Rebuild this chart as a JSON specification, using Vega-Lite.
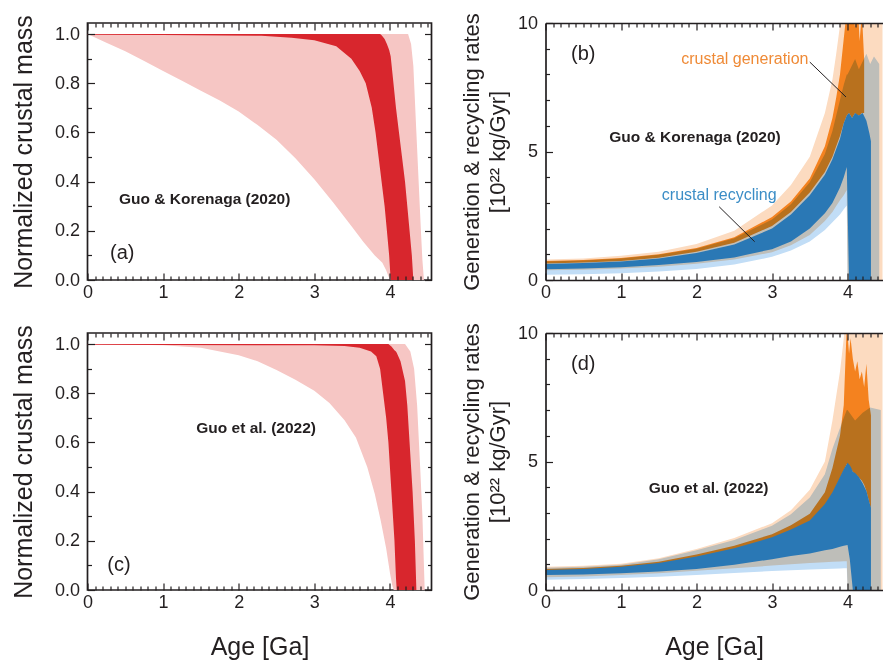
{
"$schema": "https://vega.github.io/schema/vega-lite/v6.json",
"background": "white",
"padding": {"left": 10.5, "top": 12, "right": 0, "bottom": 0},
"config": {
  "view": {"stroke": null},
  "axis": {"labelFont": "Liberation Sans", "labelFontSize": 18, "labelColor": "#231f20", "titleFont": "Liberation Sans", "titleFontSize": 25, "titleFontWeight": "normal", "titleColor": "#231f20", "tickColor": "#231f20", "domainColor": "#231f20", "domainWidth": 1.7, "tickWidth": 1.2, "grid": false, "labelFlush": false, "zindex": 1},
  "text": {"font": "Liberation Sans", "color": "#231f20"}
},
"bounds": "flush",
"columns": 2,
"spacing": {"row": 53, "column": 114},
"datasets": {
  "a_pink": [{"age":0,"lo":1,"hi":1},{"age":0.25,"lo":0.965,"hi":1},{"age":0.5,"lo":0.93,"hi":1},{"age":0.75,"lo":0.89,"hi":1},{"age":1,"lo":0.85,"hi":1},{"age":1.25,"lo":0.81,"hi":1},{"age":1.5,"lo":0.77,"hi":1},{"age":1.75,"lo":0.73,"hi":1},{"age":2,"lo":0.685,"hi":1},{"age":2.25,"lo":0.63,"hi":1},{"age":2.5,"lo":0.57,"hi":1},{"age":2.75,"lo":0.495,"hi":1},{"age":3,"lo":0.41,"hi":1},{"age":3.25,"lo":0.315,"hi":1},{"age":3.5,"lo":0.215,"hi":1},{"age":3.65,"lo":0.155,"hi":1},{"age":3.8,"lo":0.1,"hi":1},{"age":3.9,"lo":0.07,"hi":1},{"age":3.95,"lo":0.04,"hi":1},{"age":4.0,"lo":0,"hi":1},{"age":4.24,"lo":0,"hi":1},{"age":4.28,"lo":0,"hi":0.96},{"age":4.31,"lo":0,"hi":0.87},{"age":4.35,"lo":0,"hi":0.6},{"age":4.38,"lo":0,"hi":0.4},{"age":4.41,"lo":0,"hi":0.2},{"age":4.43,"lo":0,"hi":0.08},{"age":4.45,"lo":0,"hi":0}],
  "a_red": [{"age":0,"lo":0.997,"hi":1},{"age":1,"lo":0.996,"hi":1},{"age":2.3,"lo":0.993,"hi":1},{"age":2.7,"lo":0.985,"hi":1},{"age":3.0,"lo":0.975,"hi":1},{"age":3.29,"lo":0.95,"hi":1},{"age":3.49,"lo":0.9,"hi":1},{"age":3.6,"lo":0.85,"hi":1},{"age":3.68,"lo":0.8,"hi":1},{"age":3.76,"lo":0.7,"hi":1},{"age":3.81,"lo":0.6,"hi":1},{"age":3.85,"lo":0.5,"hi":1},{"age":3.87,"lo":0.45,"hi":1},{"age":3.89,"lo":0.4,"hi":0.995},{"age":3.93,"lo":0.3,"hi":0.98},{"age":3.96,"lo":0.2,"hi":0.96},{"age":3.99,"lo":0.1,"hi":0.935},{"age":4.01,"lo":0,"hi":0.91},{"age":4.04,"lo":0,"hi":0.82},{"age":4.08,"lo":0,"hi":0.7},{"age":4.12,"lo":0,"hi":0.6},{"age":4.16,"lo":0,"hi":0.5},{"age":4.2,"lo":0,"hi":0.4},{"age":4.23,"lo":0,"hi":0.3},{"age":4.26,"lo":0,"hi":0.2},{"age":4.29,"lo":0,"hi":0.1},{"age":4.31,"lo":0,"hi":0}],
  "c_pink": [{"age":0,"lo":1,"hi":1},{"age":1,"lo":0.995,"hi":1},{"age":1.5,"lo":0.985,"hi":1},{"age":2,"lo":0.955,"hi":1},{"age":2.25,"lo":0.93,"hi":1},{"age":2.5,"lo":0.895,"hi":1},{"age":2.75,"lo":0.855,"hi":1},{"age":3,"lo":0.81,"hi":1},{"age":3.2,"lo":0.76,"hi":1},{"age":3.4,"lo":0.69,"hi":1},{"age":3.55,"lo":0.62,"hi":1},{"age":3.7,"lo":0.5,"hi":1},{"age":3.8,"lo":0.39,"hi":1},{"age":3.88,"lo":0.28,"hi":1},{"age":3.95,"lo":0.17,"hi":1},{"age":4.0,"lo":0.07,"hi":1},{"age":4.03,"lo":0.02,"hi":1},{"age":4.05,"lo":0,"hi":1},{"age":4.2,"lo":0,"hi":1},{"age":4.27,"lo":0,"hi":0.97},{"age":4.32,"lo":0,"hi":0.9},{"age":4.36,"lo":0,"hi":0.75},{"age":4.4,"lo":0,"hi":0.5},{"age":4.43,"lo":0,"hi":0.3},{"age":4.45,"lo":0,"hi":0.1},{"age":4.46,"lo":0,"hi":0}],
  "c_red": [{"age":0,"lo":0.997,"hi":1},{"age":3.0,"lo":0.995,"hi":1},{"age":3.4,"lo":0.992,"hi":1},{"age":3.6,"lo":0.985,"hi":1},{"age":3.75,"lo":0.97,"hi":1},{"age":3.82,"lo":0.95,"hi":1},{"age":3.87,"lo":0.9,"hi":1},{"age":3.91,"lo":0.8,"hi":1},{"age":3.95,"lo":0.7,"hi":1},{"age":3.98,"lo":0.6,"hi":1},{"age":4.02,"lo":0.4,"hi":0.99},{"age":4.06,"lo":0.2,"hi":0.975},{"age":4.08,"lo":0.05,"hi":0.97},{"age":4.09,"lo":0,"hi":0.965},{"age":4.14,"lo":0,"hi":0.93},{"age":4.2,"lo":0,"hi":0.85},{"age":4.23,"lo":0,"hi":0.75},{"age":4.26,"lo":0,"hi":0.6},{"age":4.3,"lo":0,"hi":0.4},{"age":4.33,"lo":0,"hi":0.2},{"age":4.35,"lo":0,"hi":0}],
  "b_gen95": [{"age":0,"lo":0.38,"hi":0.8},{"age":0.5,"lo":0.4,"hi":0.84},{"age":1,"lo":0.45,"hi":0.94},{"age":1.5,"lo":0.52,"hi":1.1},{"age":2,"lo":0.63,"hi":1.4},{"age":2.5,"lo":0.8,"hi":1.92},{"age":3,"lo":1.08,"hi":2.9},{"age":3.25,"lo":1.35,"hi":3.7},{"age":3.5,"lo":1.75,"hi":4.8},{"age":3.7,"lo":2.3,"hi":6.5},{"age":3.8,"lo":2.65,"hi":7.8},{"age":3.85,"lo":2.88,"hi":8.8},{"age":3.9,"lo":3.1,"hi":9.9},{"age":3.95,"lo":3.3,"hi":11},{"age":3.99,"lo":3.5,"hi":12},{"age":4.0,"lo":0,"hi":12},{"age":4.5,"lo":0,"hi":12}],
  "b_gen68": [{"age":0,"lo":0.64,"hi":0.74},{"age":0.5,"lo":0.68,"hi":0.78},{"age":1,"lo":0.74,"hi":0.86},{"age":1.5,"lo":0.87,"hi":1.0},{"age":2,"lo":1.1,"hi":1.25},{"age":2.5,"lo":1.45,"hi":1.66},{"age":3,"lo":2.1,"hi":2.45},{"age":3.25,"lo":2.65,"hi":3.05},{"age":3.5,"lo":3.4,"hi":3.95},{"age":3.7,"lo":4.2,"hi":5.2},{"age":3.8,"lo":4.8,"hi":6.3},{"age":3.85,"lo":5.2,"hi":7.1},{"age":3.9,"lo":5.6,"hi":8.0},{"age":3.95,"lo":6.1,"hi":9.4},{"age":3.99,"lo":6.4,"hi":10.5},{"age":4.02,"lo":6.5,"hi":12},{"age":4.06,"lo":6.3,"hi":11},{"age":4.1,"lo":6.5,"hi":9.8},{"age":4.13,"lo":6.4,"hi":11},{"age":4.16,"lo":6.4,"hi":9.3},{"age":4.19,"lo":6.5,"hi":10.4},{"age":4.22,"lo":6.5,"hi":8.6}],
  "b_rec95": [{"age":0,"lo":0.2,"hi":0.72},{"age":0.5,"lo":0.22,"hi":0.76},{"age":1,"lo":0.26,"hi":0.84},{"age":1.5,"lo":0.33,"hi":0.98},{"age":2,"lo":0.43,"hi":1.22},{"age":2.5,"lo":0.6,"hi":1.62},{"age":3,"lo":0.9,"hi":2.35},{"age":3.25,"lo":1.15,"hi":2.95},{"age":3.5,"lo":1.5,"hi":3.8},{"age":3.7,"lo":1.95,"hi":4.9},{"age":3.8,"lo":2.25,"hi":5.8},{"age":3.9,"lo":2.55,"hi":7.0},{"age":3.95,"lo":2.75,"hi":7.6},{"age":3.99,"lo":2.9,"hi":8.0},{"age":4.0,"lo":0,"hi":8.0},{"age":4.05,"lo":0,"hi":8.3},{"age":4.1,"lo":0,"hi":8.6},{"age":4.15,"lo":0,"hi":8.2},{"age":4.2,"lo":0,"hi":8.5},{"age":4.25,"lo":0,"hi":8.8},{"age":4.3,"lo":0,"hi":8.4},{"age":4.35,"lo":0,"hi":8.7},{"age":4.42,"lo":0,"hi":8.4}],
  "b_rec68": [{"age":0,"lo":0.42,"hi":0.62},{"age":0.5,"lo":0.45,"hi":0.66},{"age":1,"lo":0.5,"hi":0.72},{"age":1.5,"lo":0.58,"hi":0.84},{"age":2,"lo":0.7,"hi":1.05},{"age":2.5,"lo":0.88,"hi":1.38},{"age":3,"lo":1.2,"hi":2.0},{"age":3.25,"lo":1.5,"hi":2.55},{"age":3.5,"lo":2.0,"hi":3.3},{"age":3.7,"lo":2.6,"hi":4.1},{"age":3.8,"lo":3.0,"hi":4.7},{"age":3.9,"lo":3.6,"hi":5.5},{"age":3.95,"lo":4.0,"hi":6.1},{"age":3.99,"lo":4.4,"hi":6.4},{"age":4.02,"lo":0,"hi":6.5},{"age":4.06,"lo":0,"hi":6.3},{"age":4.1,"lo":0,"hi":6.5},{"age":4.15,"lo":0,"hi":6.4},{"age":4.2,"lo":0,"hi":6.5},{"age":4.25,"lo":0,"hi":6.2},{"age":4.29,"lo":0,"hi":5.7},{"age":4.31,"lo":0,"hi":5.4}],
  "d_gen95": [{"age":0,"lo":0.5,"hi":0.9},{"age":0.5,"lo":0.53,"hi":0.94},{"age":1,"lo":0.58,"hi":1.02},{"age":1.5,"lo":0.65,"hi":1.24},{"age":2,"lo":0.75,"hi":1.6},{"age":2.5,"lo":0.85,"hi":2.02},{"age":3,"lo":0.95,"hi":2.6},{"age":3.25,"lo":1.0,"hi":3.1},{"age":3.5,"lo":1.05,"hi":3.9},{"age":3.7,"lo":1.08,"hi":5.0},{"age":3.8,"lo":1.1,"hi":6.6},{"age":3.9,"lo":1.11,"hi":8.5},{"age":3.95,"lo":1.12,"hi":9.8},{"age":3.99,"lo":1.12,"hi":11},{"age":4.0,"lo":0,"hi":12},{"age":4.5,"lo":0,"hi":12}],
  "d_gen68": [{"age":0,"lo":0.74,"hi":0.82},{"age":0.5,"lo":0.78,"hi":0.86},{"age":1,"lo":0.86,"hi":0.94},{"age":1.5,"lo":1.0,"hi":1.1},{"age":2,"lo":1.25,"hi":1.38},{"age":2.5,"lo":1.57,"hi":1.72},{"age":3,"lo":2.0,"hi":2.17},{"age":3.25,"lo":2.3,"hi":2.52},{"age":3.5,"lo":2.65,"hi":2.97},{"age":3.7,"lo":3.3,"hi":3.8},{"age":3.8,"lo":3.75,"hi":4.75},{"age":3.9,"lo":4.35,"hi":6.0},{"age":3.95,"lo":4.65,"hi":7.2},{"age":3.99,"lo":4.9,"hi":10.3},{"age":4.02,"lo":4.8,"hi":9.2},{"age":4.04,"lo":4.75,"hi":9.8},{"age":4.07,"lo":4.6,"hi":9.0},{"age":4.1,"lo":4.5,"hi":8.5},{"age":4.13,"lo":4.45,"hi":8.9},{"age":4.16,"lo":4.35,"hi":8.2},{"age":4.19,"lo":4.25,"hi":8.5},{"age":4.22,"lo":4.1,"hi":7.9},{"age":4.25,"lo":3.85,"hi":8.8},{"age":4.28,"lo":3.5,"hi":7.4},{"age":4.31,"lo":3.15,"hi":6.8}],
  "d_rec95": [{"age":0,"lo":0.4,"hi":0.87},{"age":0.5,"lo":0.43,"hi":0.9},{"age":1,"lo":0.47,"hi":0.98},{"age":1.5,"lo":0.52,"hi":1.2},{"age":2,"lo":0.58,"hi":1.55},{"age":2.5,"lo":0.66,"hi":1.95},{"age":3,"lo":0.74,"hi":2.5},{"age":3.25,"lo":0.77,"hi":2.95},{"age":3.5,"lo":0.8,"hi":3.6},{"age":3.7,"lo":0.82,"hi":4.5},{"age":3.8,"lo":0.83,"hi":5.5},{"age":3.9,"lo":0.84,"hi":6.3},{"age":3.95,"lo":0.85,"hi":6.7},{"age":3.99,"lo":0.85,"hi":7.0},{"age":4.0,"lo":0,"hi":7.0},{"age":4.1,"lo":0,"hi":6.6},{"age":4.2,"lo":0,"hi":6.9},{"age":4.3,"lo":0,"hi":7.1},{"age":4.44,"lo":0,"hi":7.0}],
  "d_rec68": [{"age":0,"lo":0.58,"hi":0.78},{"age":0.5,"lo":0.6,"hi":0.82},{"age":1,"lo":0.65,"hi":0.9},{"age":1.5,"lo":0.72,"hi":1.05},{"age":2,"lo":0.82,"hi":1.3},{"age":2.5,"lo":0.98,"hi":1.62},{"age":3,"lo":1.2,"hi":2.05},{"age":3.25,"lo":1.32,"hi":2.35},{"age":3.5,"lo":1.42,"hi":2.7},{"age":3.7,"lo":1.55,"hi":3.35},{"age":3.8,"lo":1.6,"hi":3.8},{"age":3.9,"lo":1.68,"hi":4.4},{"age":3.95,"lo":1.72,"hi":4.7},{"age":4.0,"lo":1.75,"hi":4.95},{"age":4.03,"lo":1.2,"hi":4.85},{"age":4.05,"lo":0.6,"hi":4.75},{"age":4.07,"lo":0,"hi":4.6},{"age":4.1,"lo":0,"hi":4.55},{"age":4.15,"lo":0,"hi":4.4},{"age":4.2,"lo":0,"hi":4.15},{"age":4.25,"lo":0,"hi":3.85},{"age":4.29,"lo":0,"hi":3.4},{"age":4.31,"lo":0,"hi":3.2}]
},
"concat": [
  {
    "width": 344, "height": 257,
    "view": {"stroke": "#231f20", "strokeWidth": 1.7},
    "layer": [
      {"data": {"name": "a_pink"}, "mark": {"type": "area", "color": "#f6c6c4", "clip": true},
       "encoding": {
         "x": {"field": "age", "type": "quantitative", "scale": {"domain": [0, 4.55], "nice": false}, "axis": {"orient": "bottom", "values": [0,1,2,3,4], "format": "d", "offset": -7, "tickSize": 7, "labelPadding": 3, "domain": false, "title": null, "zindex": 1}},
         "y": {"field": "hi", "type": "quantitative", "scale": {"domain": [0, 1.045], "nice": false}, "axis": {"orient": "left", "values": [0,0.2,0.4,0.6,0.8,1], "format": ".1f", "offset": -7, "tickSize": 7, "labelPadding": 8, "domain": false, "title": "Normalized crustal mass", "titlePadding": 18, "zindex": 1}},
         "y2": {"field": "lo"}}},
      {"data": {"name": "a_red"}, "mark": {"type": "area", "color": "#d8262d", "clip": true},
       "encoding": {
         "x": {"field": "age", "type": "quantitative", "scale": {"domain": [0, 4.55], "nice": false}, "axis": {"orient": "bottom", "values": [0.1,0.2,0.3,0.4,0.5,0.6,0.7,0.8,0.9,1.1,1.2,1.3,1.4,1.5,1.6,1.7,1.8,1.9,2.1,2.2,2.3,2.4,2.5,2.6,2.7,2.8,2.9,3.1,3.2,3.3,3.4,3.5,3.6,3.7,3.8,3.9,4.1,4.2,4.3,4.4,4.5], "offset": -4, "tickSize": 4, "labels": false, "domain": false, "title": null, "zindex": 1}},
         "y": {"field": "hi", "type": "quantitative", "scale": {"domain": [0, 1.045], "nice": false}, "axis": {"orient": "left", "values": [0.1,0.3,0.5,0.7,0.9], "offset": -4, "tickSize": 4, "labels": false, "domain": false, "title": null, "zindex": 1}},
         "y2": {"field": "lo"}}},
      {"data": {"values": [{"label": "Guo & Korenaga (2020)"}]}, "mark": {"type": "text", "fontSize": 15.5, "fontWeight": "bold"},
       "encoding": {
         "x": {"datum": 1.55, "type": "quantitative", "axis": {"orient": "top", "values": [0,1,2,3,4], "offset": -7, "tickSize": 7, "labels": false, "domain": false, "title": null, "zindex": 1}},
         "y": {"datum": 0.33, "type": "quantitative", "axis": {"orient": "right", "values": [0,0.2,0.4,0.6,0.8,1], "offset": -7, "tickSize": 7, "labels": false, "domain": false, "title": null, "zindex": 1}},
         "text": {"field": "label"}}},
      {"data": {"values": [{"label": "(a)"}]}, "mark": {"type": "text", "fontSize": 20},
       "encoding": {
         "x": {"datum": 0.46, "type": "quantitative", "axis": {"orient": "top", "values": [0.1,0.2,0.3,0.4,0.5,0.6,0.7,0.8,0.9,1.1,1.2,1.3,1.4,1.5,1.6,1.7,1.8,1.9,2.1,2.2,2.3,2.4,2.5,2.6,2.7,2.8,2.9,3.1,3.2,3.3,3.4,3.5,3.6,3.7,3.8,3.9,4.1,4.2,4.3,4.4,4.5], "offset": -4, "tickSize": 4, "labels": false, "domain": false, "title": null, "zindex": 1}},
         "y": {"datum": 0.11, "type": "quantitative", "axis": {"orient": "right", "values": [0.1,0.3,0.5,0.7,0.9], "offset": -4, "tickSize": 4, "labels": false, "domain": false, "title": null, "zindex": 1}},
         "text": {"field": "label"}}}
    ],
    "resolve": {"axis": {"x": "independent", "y": "independent"}}
  },
  {
    "width": 337, "height": 257,
    "layer": [
      {"data": {"name": "b_gen95"}, "mark": {"type": "area", "color": "#fcdbc0", "clip": true},
       "encoding": {
         "x": {"field": "age", "type": "quantitative", "scale": {"domain": [0, 4.463], "nice": false}, "axis": {"orient": "bottom", "values": [0,1,2,3,4], "format": "d", "offset": -7, "tickSize": 7, "labelPadding": 3, "domain": false, "title": null, "zindex": 1}},
         "y": {"field": "hi", "type": "quantitative", "scale": {"domain": [0, 10], "nice": false}, "axis": {"orient": "left", "values": [0,5,10], "format": "d", "offset": -7, "tickSize": 7, "labelPadding": 8, "domain": false, "title": ["Generation & recycling rates", "[10²² kg/Gyr]"], "titleFontSize": 22, "titleLineHeight": 26, "titlePadding": 8, "zindex": 1}},
         "y2": {"field": "lo"}}},
      {"data": {"name": "b_gen68"}, "mark": {"type": "area", "color": "#f4821f", "clip": true},
       "encoding": {
         "x": {"field": "age", "type": "quantitative", "scale": {"domain": [0, 4.463], "nice": false}, "axis": {"orient": "bottom", "values": [0.1,0.2,0.3,0.4,0.5,0.6,0.7,0.8,0.9,1.1,1.2,1.3,1.4,1.5,1.6,1.7,1.8,1.9,2.1,2.2,2.3,2.4,2.5,2.6,2.7,2.8,2.9,3.1,3.2,3.3,3.4,3.5,3.6,3.7,3.8,3.9,4.1,4.2,4.3,4.4], "offset": -4, "tickSize": 4, "labels": false, "domain": false, "title": null, "zindex": 1}},
         "y": {"field": "hi", "type": "quantitative", "scale": {"domain": [0, 10], "nice": false}, "axis": {"orient": "left", "values": [1,2,3,4,6,7,8,9], "offset": -4, "tickSize": 4, "labels": false, "domain": false, "title": null, "zindex": 1}},
         "y2": {"field": "lo"}}},
      {"data": {"name": "b_rec95"}, "mark": {"type": "area", "color": "#c1ddf6", "blend": "multiply"},
       "encoding": {
         "x": {"field": "age", "type": "quantitative", "scale": {"domain": [0, 4.463], "nice": false}, "axis": {"orient": "bottom", "ticks": false, "labels": false, "domain": true, "title": null, "zindex": 1}},
         "y": {"field": "hi", "type": "quantitative", "scale": {"domain": [0, 10], "nice": false}, "axis": {"orient": "left", "ticks": false, "labels": false, "domain": true, "title": null, "zindex": 1}},
         "y2": {"field": "lo"}}},
      {"data": {"name": "b_rec68"}, "mark": {"type": "area", "color": "#2a78b5", "clip": true},
       "encoding": {
         "x": {"field": "age", "type": "quantitative", "scale": {"domain": [0, 4.463], "nice": false}, "axis": {"orient": "top", "ticks": false, "labels": false, "domain": true, "title": null, "zindex": 1}},
         "y": {"field": "hi", "type": "quantitative", "scale": {"domain": [0, 10], "nice": false}, "axis": null},
         "y2": {"field": "lo"}}},
      {"data": {"values": [{"label": "(b)"}]}, "mark": {"type": "text", "fontSize": 20},
       "encoding": {"x": {"datum": 0.5, "type": "quantitative", "axis": {"orient": "top", "values": [0,1,2,3,4], "offset": -7, "tickSize": 7, "labels": false, "domain": false, "title": null, "zindex": 1}}, "y": {"datum": 8.81, "type": "quantitative", "axis": null}, "text": {"field": "label"}}},
      {"data": {"values": [{"label": "Guo & Korenaga (2020)"}]}, "mark": {"type": "text", "fontSize": 15.5, "fontWeight": "bold"},
       "encoding": {"x": {"datum": 1.98, "type": "quantitative", "axis": {"orient": "top", "values": [0.1,0.2,0.3,0.4,0.5,0.6,0.7,0.8,0.9,1.1,1.2,1.3,1.4,1.5,1.6,1.7,1.8,1.9,2.1,2.2,2.3,2.4,2.5,2.6,2.7,2.8,2.9,3.1,3.2,3.3,3.4,3.5,3.6,3.7,3.8,3.9,4.1,4.2,4.3,4.4], "offset": -4, "tickSize": 4, "labels": false, "domain": false, "title": null, "zindex": 1}}, "y": {"datum": 5.57, "type": "quantitative", "axis": null}, "text": {"field": "label"}}},
      {"data": {"values": [{"label": "crustal generation"}]}, "mark": {"type": "text", "fontSize": 16, "color": "#ef8a36"},
       "encoding": {"x": {"datum": 2.64, "type": "quantitative", "axis": null}, "y": {"datum": 8.61, "type": "quantitative", "axis": null}, "text": {"field": "label"}}},
      {"data": {"values": [{"label": "crustal recycling"}]}, "mark": {"type": "text", "fontSize": 16, "color": "#3b8dc6"},
       "encoding": {"x": {"datum": 2.3, "type": "quantitative", "axis": null}, "y": {"datum": 3.3, "type": "quantitative", "axis": null}, "text": {"field": "label"}}},
      {"data": {"values": [{"line": "generation"}]}, "mark": {"type": "rule", "color": "#231f20", "strokeWidth": 1},
       "encoding": {"x": {"datum": 3.5, "type": "quantitative", "axis": null}, "y": {"datum": 8.48, "type": "quantitative", "axis": null}, "x2": {"datum": 3.98}, "y2": {"datum": 7.12}}},
      {"data": {"values": [{"line": "recycling"}]}, "mark": {"type": "rule", "color": "#231f20", "strokeWidth": 1},
       "encoding": {"x": {"datum": 2.3, "type": "quantitative", "axis": null}, "y": {"datum": 2.85, "type": "quantitative", "axis": null}, "x2": {"datum": 2.77}, "y2": {"datum": 1.49}}}
    ],
    "resolve": {"axis": {"x": "independent", "y": "independent"}}
  },
  {
    "width": 344, "height": 257,
    "view": {"stroke": "#231f20", "strokeWidth": 1.7},
    "layer": [
      {"data": {"name": "c_pink"}, "mark": {"type": "area", "color": "#f6c6c4", "clip": true},
       "encoding": {
         "x": {"field": "age", "type": "quantitative", "scale": {"domain": [0, 4.55], "nice": false}, "axis": {"orient": "bottom", "values": [0,1,2,3,4], "format": "d", "offset": -7, "tickSize": 7, "labelPadding": 3, "domain": false, "title": "Age [Ga]", "titlePadding": 23, "zindex": 1}},
         "y": {"field": "hi", "type": "quantitative", "scale": {"domain": [0, 1.045], "nice": false}, "axis": {"orient": "left", "values": [0,0.2,0.4,0.6,0.8,1], "format": ".1f", "offset": -7, "tickSize": 7, "labelPadding": 8, "domain": false, "title": "Normalized crustal mass", "titlePadding": 18, "zindex": 1}},
         "y2": {"field": "lo"}}},
      {"data": {"name": "c_red"}, "mark": {"type": "area", "color": "#d8262d", "clip": true},
       "encoding": {
         "x": {"field": "age", "type": "quantitative", "scale": {"domain": [0, 4.55], "nice": false}, "axis": {"orient": "bottom", "values": [0.1,0.2,0.3,0.4,0.5,0.6,0.7,0.8,0.9,1.1,1.2,1.3,1.4,1.5,1.6,1.7,1.8,1.9,2.1,2.2,2.3,2.4,2.5,2.6,2.7,2.8,2.9,3.1,3.2,3.3,3.4,3.5,3.6,3.7,3.8,3.9,4.1,4.2,4.3,4.4,4.5], "offset": -4, "tickSize": 4, "labels": false, "domain": false, "title": null, "zindex": 1}},
         "y": {"field": "hi", "type": "quantitative", "scale": {"domain": [0, 1.045], "nice": false}, "axis": {"orient": "left", "values": [0.1,0.3,0.5,0.7,0.9], "offset": -4, "tickSize": 4, "labels": false, "domain": false, "title": null, "zindex": 1}},
         "y2": {"field": "lo"}}},
      {"data": {"values": [{"label": "Guo et al. (2022)"}]}, "mark": {"type": "text", "fontSize": 15.5, "fontWeight": "bold"},
       "encoding": {
         "x": {"datum": 2.23, "type": "quantitative", "axis": {"orient": "top", "values": [0,1,2,3,4], "offset": -7, "tickSize": 7, "labels": false, "domain": false, "title": null, "zindex": 1}},
         "y": {"datum": 0.66, "type": "quantitative", "axis": {"orient": "right", "values": [0,0.2,0.4,0.6,0.8,1], "offset": -7, "tickSize": 7, "labels": false, "domain": false, "title": null, "zindex": 1}},
         "text": {"field": "label"}}},
      {"data": {"values": [{"label": "(c)"}]}, "mark": {"type": "text", "fontSize": 20},
       "encoding": {
         "x": {"datum": 0.415, "type": "quantitative", "axis": {"orient": "top", "values": [0.1,0.2,0.3,0.4,0.5,0.6,0.7,0.8,0.9,1.1,1.2,1.3,1.4,1.5,1.6,1.7,1.8,1.9,2.1,2.2,2.3,2.4,2.5,2.6,2.7,2.8,2.9,3.1,3.2,3.3,3.4,3.5,3.6,3.7,3.8,3.9,4.1,4.2,4.3,4.4,4.5], "offset": -4, "tickSize": 4, "labels": false, "domain": false, "title": null, "zindex": 1}},
         "y": {"datum": 0.1, "type": "quantitative", "axis": {"orient": "right", "values": [0.1,0.3,0.5,0.7,0.9], "offset": -4, "tickSize": 4, "labels": false, "domain": false, "title": null, "zindex": 1}},
         "text": {"field": "label"}}}
    ],
    "resolve": {"axis": {"x": "independent", "y": "independent"}}
  },
  {
    "width": 337, "height": 257,
    "layer": [
      {"data": {"name": "d_gen95"}, "mark": {"type": "area", "color": "#fcdbc0", "clip": true},
       "encoding": {
         "x": {"field": "age", "type": "quantitative", "scale": {"domain": [0, 4.463], "nice": false}, "axis": {"orient": "bottom", "values": [0,1,2,3,4], "format": "d", "offset": -7, "tickSize": 7, "labelPadding": 3, "domain": false, "title": "Age [Ga]", "titlePadding": 23, "zindex": 1}},
         "y": {"field": "hi", "type": "quantitative", "scale": {"domain": [0, 10], "nice": false}, "axis": {"orient": "left", "values": [0,5,10], "format": "d", "offset": -7, "tickSize": 7, "labelPadding": 8, "domain": false, "title": ["Generation & recycling rates", "[10²² kg/Gyr]"], "titleFontSize": 22, "titleLineHeight": 26, "titlePadding": 8, "zindex": 1}},
         "y2": {"field": "lo"}}},
      {"data": {"name": "d_gen68"}, "mark": {"type": "area", "color": "#f4821f", "clip": true},
       "encoding": {
         "x": {"field": "age", "type": "quantitative", "scale": {"domain": [0, 4.463], "nice": false}, "axis": {"orient": "bottom", "values": [0.1,0.2,0.3,0.4,0.5,0.6,0.7,0.8,0.9,1.1,1.2,1.3,1.4,1.5,1.6,1.7,1.8,1.9,2.1,2.2,2.3,2.4,2.5,2.6,2.7,2.8,2.9,3.1,3.2,3.3,3.4,3.5,3.6,3.7,3.8,3.9,4.1,4.2,4.3,4.4], "offset": -4, "tickSize": 4, "labels": false, "domain": false, "title": null, "zindex": 1}},
         "y": {"field": "hi", "type": "quantitative", "scale": {"domain": [0, 10], "nice": false}, "axis": {"orient": "left", "values": [1,2,3,4,6,7,8,9], "offset": -4, "tickSize": 4, "labels": false, "domain": false, "title": null, "zindex": 1}},
         "y2": {"field": "lo"}}},
      {"data": {"name": "d_rec95"}, "mark": {"type": "area", "color": "#c1ddf6", "blend": "multiply"},
       "encoding": {
         "x": {"field": "age", "type": "quantitative", "scale": {"domain": [0, 4.463], "nice": false}, "axis": {"orient": "bottom", "ticks": false, "labels": false, "domain": true, "title": null, "zindex": 1}},
         "y": {"field": "hi", "type": "quantitative", "scale": {"domain": [0, 10], "nice": false}, "axis": {"orient": "left", "ticks": false, "labels": false, "domain": true, "title": null, "zindex": 1}},
         "y2": {"field": "lo"}}},
      {"data": {"name": "d_rec68"}, "mark": {"type": "area", "color": "#2a78b5", "clip": true},
       "encoding": {
         "x": {"field": "age", "type": "quantitative", "scale": {"domain": [0, 4.463], "nice": false}, "axis": {"orient": "top", "ticks": false, "labels": false, "domain": true, "title": null, "zindex": 1}},
         "y": {"field": "hi", "type": "quantitative", "scale": {"domain": [0, 10], "nice": false}, "axis": null},
         "y2": {"field": "lo"}}},
      {"data": {"values": [{"label": "(d)"}]}, "mark": {"type": "text", "fontSize": 20},
       "encoding": {"x": {"datum": 0.5, "type": "quantitative", "axis": {"orient": "top", "values": [0,1,2,3,4], "offset": -7, "tickSize": 7, "labels": false, "domain": false, "title": null, "zindex": 1}}, "y": {"datum": 8.81, "type": "quantitative", "axis": null}, "text": {"field": "label"}}},
      {"data": {"values": [{"label": "Guo et al. (2022)"}]}, "mark": {"type": "text", "fontSize": 15.5, "fontWeight": "bold"},
       "encoding": {"x": {"datum": 2.16, "type": "quantitative", "axis": {"orient": "top", "values": [0.1,0.2,0.3,0.4,0.5,0.6,0.7,0.8,0.9,1.1,1.2,1.3,1.4,1.5,1.6,1.7,1.8,1.9,2.1,2.2,2.3,2.4,2.5,2.6,2.7,2.8,2.9,3.1,3.2,3.3,3.4,3.5,3.6,3.7,3.8,3.9,4.1,4.2,4.3,4.4], "offset": -4, "tickSize": 4, "labels": false, "domain": false, "title": null, "zindex": 1}}, "y": {"datum": 3.95, "type": "quantitative", "axis": null}, "text": {"field": "label"}}}
    ],
    "resolve": {"axis": {"x": "independent", "y": "independent"}}
  }
]
}
